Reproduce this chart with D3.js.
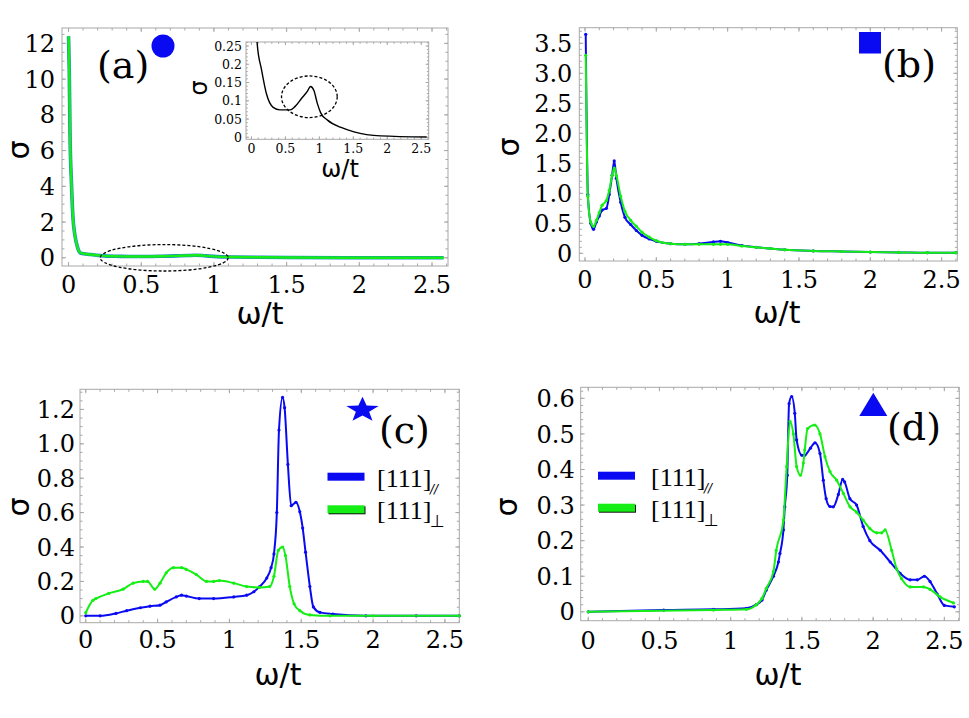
<!DOCTYPE html>
<html>
<head>
<meta charset="utf-8">
<script src="https://cdn.jsdelivr.net/npm/d3@7"></script>
<style>
  body { margin: 0; background: #fff; }
  svg { display: block; }
  .tick-label { font-family: 'DejaVu Serif', serif; fill: #000; }
  .axis-title { font-family: 'DejaVu Sans', sans-serif; fill: #000; }
</style>
</head>
<body>
<svg id="chart" width="969" height="718"></svg>
<script>
// ---- data ----

// (a) sigma(omega), both polarisations coincide; inset shows the same curve zoomed in
const aOmega = [0, 0.005, 0.01, 0.02, 0.03, 0.045, 0.065, 0.085, 0.15, 0.22, 0.32, 0.42, 0.57, 0.64, 0.74, 0.82, 0.87, 0.92, 0.97, 1.02, 1.12, 1.32, 1.51, 1.9, 2.58];
const aSigma = [12.4, 10.5, 7.0, 4.2, 2.3, 1.2, 0.5, 0.256, 0.184, 0.12, 0.082, 0.075, 0.075, 0.084, 0.107, 0.125, 0.139, 0.128, 0.093, 0.067, 0.047, 0.027, 0.015, 0.004, 0.001];

// (b)
const bOmega = [0.005, 0.02, 0.04, 0.06, 0.08, 0.1, 0.12, 0.15, 0.17, 0.19, 0.205, 0.22, 0.25, 0.28, 0.32, 0.36, 0.4, 0.45, 0.5, 0.6, 0.7, 0.8, 0.9, 0.95, 1.0, 1.1, 1.2, 1.3, 1.4, 1.6, 1.8, 2.0, 2.2, 2.4, 2.6];
const bPar = [3.65, 0.98, 0.5, 0.4, 0.52, 0.62, 0.72, 0.75, 0.98, 1.3, 1.54, 1.25, 0.85, 0.6, 0.48, 0.38, 0.3, 0.24, 0.2, 0.16, 0.15, 0.16, 0.19, 0.2, 0.18, 0.13, 0.1, 0.08, 0.06, 0.04, 0.03, 0.02, 0.015, 0.01, 0.01];
const bPerp = [3.3, 0.95, 0.52, 0.45, 0.55, 0.68, 0.8, 0.88, 1.05, 1.3, 1.42, 1.3, 0.95, 0.7, 0.55, 0.45, 0.35, 0.27, 0.21, 0.16, 0.15, 0.15, 0.15, 0.15, 0.15, 0.12, 0.1, 0.08, 0.06, 0.04, 0.03, 0.02, 0.015, 0.01, 0.01];

// (c)
const cParOmega = [0, 0.1, 0.21, 0.285, 0.38, 0.447, 0.517, 0.56, 0.63, 0.667, 0.7, 0.79, 0.89, 1.03, 1.12, 1.17, 1.21, 1.26, 1.29, 1.31, 1.33, 1.345, 1.37, 1.384, 1.407, 1.43, 1.463, 1.49, 1.51, 1.53, 1.56, 1.584, 1.63, 1.72, 1.95, 2.3, 2.6];
const cPar = [0, 0, 0.014, 0.03, 0.047, 0.056, 0.062, 0.081, 0.11, 0.12, 0.115, 0.1, 0.1, 0.11, 0.12, 0.14, 0.17, 0.22, 0.28, 0.36, 0.6, 1.08, 1.27, 1.21, 0.88, 0.64, 0.66, 0.605, 0.51, 0.37, 0.17, 0.052, 0.02, 0.01, 0, 0, 0];
const cPerpOmega = [0, 0.05, 0.07, 0.16, 0.26, 0.33, 0.4, 0.43, 0.48, 0.517, 0.56, 0.61, 0.667, 0.7, 0.77, 0.84, 0.89, 0.93, 1.03, 1.12, 1.21, 1.28, 1.31, 1.34, 1.37, 1.39, 1.42, 1.45, 1.49, 1.56, 1.7, 2.0, 2.6];
const cPerp = [0.018, 0.09, 0.1, 0.13, 0.155, 0.19, 0.2, 0.2, 0.155, 0.19, 0.25, 0.28, 0.28, 0.27, 0.24, 0.2, 0.2, 0.205, 0.19, 0.17, 0.165, 0.17, 0.23, 0.38, 0.4, 0.35, 0.17, 0.07, 0.03, 0.005, 0, 0, 0];

// (d)
const dParOmega = [0, 0.53, 0.88, 1.11, 1.18, 1.22, 1.25, 1.3, 1.335, 1.346, 1.37, 1.38, 1.397, 1.41, 1.428, 1.45, 1.463, 1.5, 1.52, 1.56, 1.592, 1.627, 1.65, 1.67, 1.697, 1.72, 1.756, 1.786, 1.8, 1.837, 1.884, 1.93, 1.977, 2.05, 2.12, 2.19, 2.26, 2.31, 2.36, 2.4, 2.45, 2.5, 2.57];
const dPar = [0, 0.005, 0.007, 0.01, 0.02, 0.033, 0.061, 0.1, 0.14, 0.164, 0.23, 0.295, 0.384, 0.585, 0.605, 0.558, 0.483, 0.44, 0.44, 0.46, 0.475, 0.445, 0.37, 0.318, 0.296, 0.295, 0.33, 0.372, 0.365, 0.318, 0.3, 0.24, 0.2, 0.173, 0.14, 0.108, 0.09, 0.09, 0.1, 0.085, 0.05, 0.018, 0.014];
const dPerpOmega = [0, 0.88, 1.11, 1.18, 1.22, 1.25, 1.3, 1.32, 1.37, 1.393, 1.416, 1.44, 1.463, 1.49, 1.51, 1.52, 1.54, 1.59, 1.627, 1.662, 1.697, 1.744, 1.791, 1.838, 1.884, 1.93, 1.977, 2.025, 2.06, 2.084, 2.13, 2.165, 2.2, 2.26, 2.354, 2.4, 2.47, 2.564];
const dPerp = [0, 0.005, 0.007, 0.02, 0.038, 0.066, 0.113, 0.173, 0.258, 0.408, 0.535, 0.5, 0.408, 0.384, 0.418, 0.455, 0.515, 0.525, 0.5, 0.436, 0.394, 0.37, 0.333, 0.295, 0.28, 0.258, 0.234, 0.222, 0.222, 0.23, 0.173, 0.121, 0.093, 0.07, 0.07, 0.063, 0.042, 0.025];

// tick labels
const xTicks = [0, 0.5, 1, 1.5, 2, 2.5];
const xTickLabels = ['0', '0.5', '1', '1.5', '2', '2.5'];
const aYTicks = [0, 2, 4, 6, 8, 10, 12];
const aYTickLabels = ['0', '2', '4', '6', '8', '10', '12'];
const insetYTicks = [0, 0.05, 0.1, 0.15, 0.2, 0.25];
const insetYTickLabels = ['0', '0.05', '0.1', '0.15', '0.2', '0.25'];
const bYTicks = [0, 0.5, 1, 1.5, 2, 2.5, 3, 3.5];
const bYTickLabels = ['0', '0.5', '1.0', '1.5', '2.0', '2.5', '3.0', '3.5'];
const cYTicks = [0, 0.2, 0.4, 0.6, 0.8, 1.0, 1.2];
const cYTickLabels = ['0', '0.2', '0.4', '0.6', '0.8', '1.0', '1.2'];
const dYTicks = [0, 0.1, 0.2, 0.3, 0.4, 0.5, 0.6];
const dYTickLabels = ['0', '0.1', '0.2', '0.3', '0.4', '0.5', '0.6'];

const legendLabels = ['[111]', '[111]'];
const legendSubs = ['//', '\u22A5'];

const BLUE = '#0a0af2';
const GREEN = '#14ee14';
const FRAME = '#a8a8a8';

const svg = d3.select('#chart');

const toPoints = (xs, ys) => xs.map((x, i) => [x, ys[i]]);

// Draw a framed Mathematica-style panel with inward ticks on all sides
function panel(opt) {
  const x = d3.scaleLinear().domain(opt.xDomain).range([opt.left, opt.right]);
  const y = d3.scaleLinear().domain(opt.yDomain).range([opt.bottom, opt.top]);
  const g = svg.append('g');
  const major = opt.major || 4;
  const minor = opt.minor || 2.5;

  const minorX = d3.range(0, opt.xDomain[1] + 1e-9, opt.xMinor);
  const minorY = d3.range(0, opt.yDomain[1] + 1e-9, opt.yMinor);

  const tickLines = (vals, len, side) => {
    g.append('g').selectAll('line')
      .data(vals)
      .join('line')
      .attr('stroke', FRAME)
      .attr('stroke-width', 1)
      .attr('x1', (d) => (side === 'bottom' || side === 'top' ? x(d) : (side === 'left' ? opt.left : opt.right)))
      .attr('x2', (d) => (side === 'bottom' || side === 'top' ? x(d) : (side === 'left' ? opt.left + len : opt.right - len)))
      .attr('y1', (d) => (side === 'left' || side === 'right' ? y(d) : (side === 'bottom' ? opt.bottom : opt.top)))
      .attr('y2', (d) => (side === 'left' || side === 'right' ? y(d) : (side === 'bottom' ? opt.bottom - len : opt.top + len)));
  };
  ['bottom', 'top'].forEach((s) => {
    tickLines(minorX, minor, s);
    tickLines(opt.xTicks, major, s);
  });
  ['left', 'right'].forEach((s) => {
    tickLines(minorY, minor, s);
    tickLines(opt.yTicks, major, s);
  });

  g.append('rect')
    .attr('x', opt.left).attr('y', opt.top)
    .attr('width', opt.right - opt.left).attr('height', opt.bottom - opt.top)
    .attr('fill', 'none')
    .attr('stroke', FRAME)
    .attr('stroke-width', 1);

  // tick labels
  g.append('g').selectAll('text')
    .data(opt.xTicks)
    .join('text')
    .attr('class', 'tick-label')
    .attr('x', (d) => x(d))
    .attr('y', opt.bottom + opt.xLabelGap)
    .attr('text-anchor', 'middle')
    .style('font-size', `${opt.fontSize}px`)
    .text((d, i) => opt.xTickLabels[i]);

  g.append('g').selectAll('text')
    .data(opt.yTicks)
    .join('text')
    .attr('class', 'tick-label')
    .attr('x', opt.left - opt.yLabelGap)
    .attr('y', (d) => y(d))
    .attr('dy', '0.36em')
    .attr('text-anchor', 'end')
    .style('font-size', `${opt.fontSize}px`)
    .text((d, i) => opt.yTickLabels[i]);

  // axis titles
  g.append('text')
    .attr('class', 'axis-title')
    .attr('x', opt.xTitle[0]).attr('y', opt.xTitle[1])
    .attr('text-anchor', 'middle')
    .style('font-size', `${opt.titleSize}px`)
    .text('\u03C9/t');

  g.append('text')
    .attr('class', 'axis-title')
    .attr('transform', `translate(${opt.yTitle[0]},${opt.yTitle[1]}) rotate(-90)`)
    .attr('text-anchor', 'middle')
    .attr('dy', '0.28em')
    .style('font-size', `${opt.titleSize}px`)
    .text('\u03C3');

  return { g, x, y };
}

function drawSeries(p, pts, color, width, dots, clip) {
  const line = d3.line().x((d) => p.x(d[0])).y((d) => p.y(d[1])).curve(d3.curveMonotoneX);
  const s = p.g.append('g');
  if (clip) s.attr('clip-path', `url(#${clip})`);
  s.append('path')
    .datum(pts)
    .attr('d', line)
    .attr('fill', 'none')
    .attr('stroke', color)
    .attr('stroke-width', width)
    .attr('stroke-linejoin', 'round');
  if (dots) {
    s.selectAll('circle')
      .data(pts)
      .join('circle')
      .attr('cx', (d) => p.x(d[0]))
      .attr('cy', (d) => p.y(d[1]))
      .attr('r', 1.6)
      .attr('fill', color);
  }
}

function ellipse(p, cx, cy, rx, ry) {
  p.g.append('ellipse')
    .attr('cx', p.x(cx)).attr('cy', p.y(cy))
    .attr('rx', p.x(cx + rx) - p.x(cx))
    .attr('ry', p.y(cy - ry) - p.y(cy))
    .attr('fill', 'none')
    .attr('stroke', '#000')
    .attr('stroke-width', 1.3)
    .attr('stroke-dasharray', '3,2');
}

function panelLabel(text, x, y) {
  svg.append('text')
    .attr('x', x).attr('y', y)
    .style('font-family', "'DejaVu Serif', serif")
    .style('font-size', '38px')
    .text(text);
}

function legend(x, y1, y2, textX) {
  [[BLUE, y1, false], [GREEN, y2, true]].forEach(([c, yy, shadow], i) => {
    if (shadow) {
      svg.append('rect').attr('x', x + 1).attr('y', yy - 3).attr('width', 37).attr('height', 8).attr('fill', '#111');
    }
    svg.append('rect').attr('x', x).attr('y', yy - 4).attr('width', 37).attr('height', 8).attr('fill', c);
    svg.append('text')
      .attr('x', textX).attr('y', yy + 10)
      .style('font-family', "'Liberation Serif', serif")
      .style('font-size', '26px')
      .text(legendLabels[i]);
    svg.append('text')
      .attr('x', textX + 53).attr('y', yy + (i === 0 ? 16 : 18))
      .style('font-family', "'DejaVu Sans', sans-serif")
      .style('font-size', i === 0 ? '12px' : '17px')
      .style('font-style', i === 0 ? 'italic' : 'normal')
      .text(legendSubs[i]);
  });
}

// ---- panel (a) ----
const pa = panel({
  left: 62, right: 448, top: 28, bottom: 266,
  xDomain: [-0.045, 2.61], yDomain: [-0.46, 12.86],
  xTicks, xTickLabels, yTicks: aYTicks, yTickLabels: aYTickLabels,
  xMinor: 0.1, yMinor: 0.5,
  fontSize: 24, titleSize: 30, xLabelGap: 27, yLabelGap: 7,
  xTitle: [260, 324], yTitle: [21, 150],
});
const aPts = toPoints(aOmega, aSigma);
drawSeries(pa, aPts, '#1e8ac8', 3.6, false);
drawSeries(pa, aPts, GREEN, 2.4, false);
ellipse(pa, 0.658, 0, 0.44, 0.74);

svg.append('circle').attr('cx', 163).attr('cy', 46).attr('r', 11.5).attr('fill', BLUE);
panelLabel('(a)', 97, 78);

// inset
svg.append('rect').attr('x', 246).attr('y', 42).attr('width', 183).attr('height', 97).attr('fill', '#fff');
const pin = panel({
  left: 246, right: 428.7, top: 42, bottom: 139.3,
  xDomain: [-0.08, 2.61], yDomain: [-0.0055, 0.261],
  xTicks, xTickLabels, yTicks: insetYTicks, yTickLabels: insetYTickLabels,
  xMinor: 0.1, yMinor: 0.01,
  major: 3, minor: 1.8,
  fontSize: 12.5, titleSize: 24, xLabelGap: 14, yLabelGap: 4,
  xTitle: [340, 177], yTitle: [200, 88],
});
svg.append('clipPath').attr('id', 'inset-clip')
  .append('rect').attr('x', 246).attr('y', 42).attr('width', 183).attr('height', 97);
drawSeries(pin, aPts, '#000', 1.4, false, 'inset-clip');
ellipse(pin, 0.853, 0.111, 0.41, 0.057);

// ---- panel (b) ----
const pb = panel({
  left: 579.3, right: 957.3, top: 27.7, bottom: 261,
  xDomain: [-0.04, 2.61], yDomain: [-0.128, 3.76],
  xTicks, xTickLabels, yTicks: bYTicks, yTickLabels: bYTickLabels,
  xMinor: 0.1, yMinor: 0.1,
  fontSize: 24, titleSize: 30, xLabelGap: 27, yLabelGap: 7,
  xTitle: [777, 323], yTitle: [511, 147],
});
drawSeries(pb, toPoints(bOmega, bPar), BLUE, 2, true);
drawSeries(pb, toPoints(bOmega, bPerp), GREEN, 2, true);
svg.append('rect').attr('x', 859).attr('y', 32).attr('width', 22).attr('height', 21.5).attr('fill', BLUE);
panelLabel('(b)', 882, 77);

// ---- panel (c) ----
const pc = panel({
  left: 80, right: 459.3, top: 389.3, bottom: 622.7,
  xDomain: [-0.04, 2.6], yDomain: [-0.04, 1.317],
  xTicks, xTickLabels, yTicks: cYTicks, yTickLabels: cYTickLabels,
  xMinor: 0.1, yMinor: 0.05,
  fontSize: 24, titleSize: 30, xLabelGap: 25, yLabelGap: 5,
  xTitle: [278, 685], yTitle: [21, 507],
});
drawSeries(pc, toPoints(cParOmega, cPar), BLUE, 2, true);
drawSeries(pc, toPoints(cPerpOmega, cPerp), GREEN, 2, true);
const star = d3.range(10).map((i) => {
  const r = i % 2 === 0 ? 17 : 7;
  const a = -Math.PI / 2 + (i * Math.PI) / 5;
  return [r * Math.cos(a), r * Math.sin(a)];
});
svg.append('path')
  .attr('d', `M${star.join('L')}Z`)
  .attr('transform', 'translate(362.5,410) scale(1,0.78)')
  .attr('fill', BLUE);
panelLabel('(c)', 379, 443);
legend(327.5, 476.7, 509.3, 377);

// ---- panel (d) ----
const pd = panel({
  left: 580.7, right: 959.3, top: 387.3, bottom: 620.7,
  xDomain: [-0.053, 2.605], yDomain: [-0.025, 0.631],
  xTicks, xTickLabels, yTicks: dYTicks, yTickLabels: dYTickLabels,
  xMinor: 0.1, yMinor: 0.02,
  fontSize: 24, titleSize: 30, xLabelGap: 28, yLabelGap: 6,
  xTitle: [778, 685], yTitle: [509, 507],
});
drawSeries(pd, toPoints(dParOmega, dPar), BLUE, 2, true);
drawSeries(pd, toPoints(dPerpOmega, dPerp), GREEN, 2, true);
svg.append('path')
  .attr('d', 'M873.3,392.7L887.3,416L859.3,416Z')
  .attr('fill', BLUE);
panelLabel('(d)', 887, 440);
legend(598, 475.7, 507.7, 651);
</script>
</body>
</html>
